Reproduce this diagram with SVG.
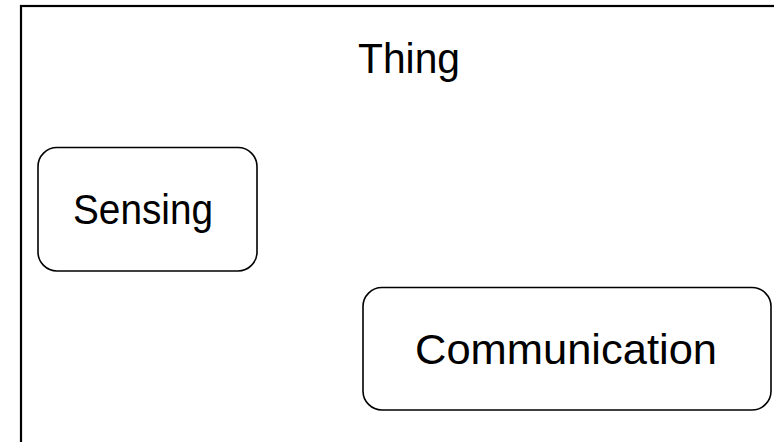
<svg xmlns="http://www.w3.org/2000/svg" width="774" height="442" viewBox="0 0 774 442">
  <style>
    .frame { fill: none; stroke: #000; stroke-width: 2.2; }
    .box { fill: #fff; stroke: #000; stroke-width: 1.6; }
    .label { font-family: "Liberation Sans", Arial, sans-serif; font-size: 42px; fill: #000; }
  </style>
  <rect width="774" height="442" fill="#fff"/>
  <g id="thing">
    <!-- container runs past the right and bottom edges -->
    <rect class="frame" x="21" y="6" width="820" height="500"/>
    <text class="label" x="358" y="73" textLength="102" lengthAdjust="spacingAndGlyphs">Thing</text>
  </g>
  <g id="sensing">
    <rect class="box" x="38" y="147.5" width="219" height="123.5" rx="19" ry="19"/>
    <text class="label" x="73" y="224" textLength="140" lengthAdjust="spacingAndGlyphs">Sensing</text>
  </g>
  <g id="communication">
    <rect class="box" x="363" y="287.5" width="408" height="122.5" rx="19" ry="19"/>
    <text class="label" x="415" y="364" textLength="302" lengthAdjust="spacingAndGlyphs">Communication</text>
  </g>
  <g id="connectors"/>
</svg>
